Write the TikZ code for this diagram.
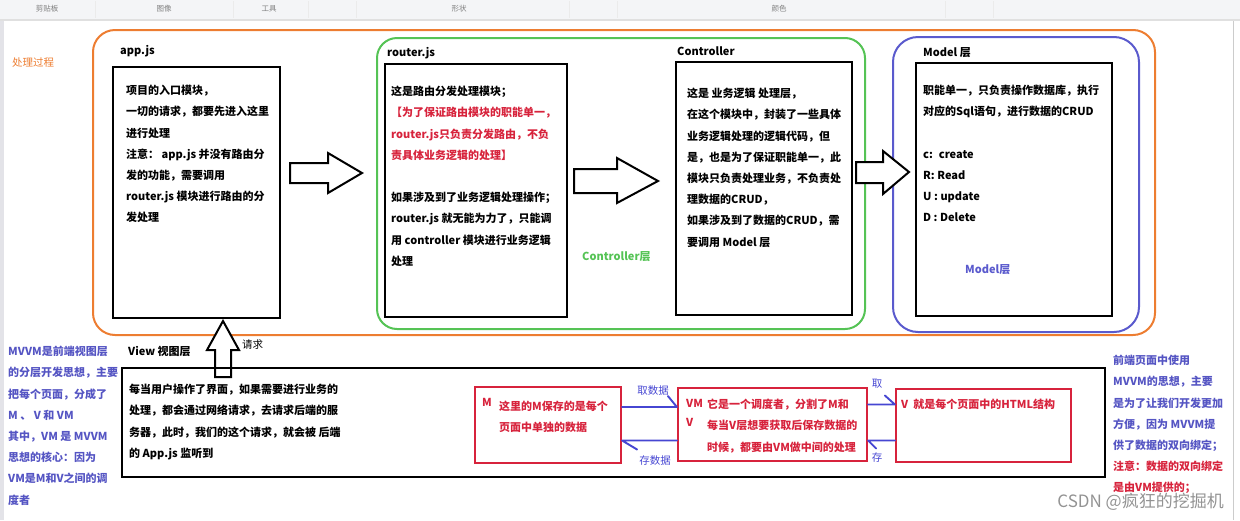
\documentclass[tikz,border=0pt]{standalone}
\usepackage{fontspec}
\setmainfont{Noto Sans CJK SC}

\definecolor{frameorange}{RGB}{237,125,49}
\definecolor{framegreen}{RGB}{85,195,85}
\definecolor{frameblue}{RGB}{90,90,205}
\definecolor{notered}{RGB}{215,35,60}
\definecolor{noteblue}{RGB}{85,85,195}
\definecolor{linkblue}{RGB}{70,70,210}
\definecolor{toolgrey}{RGB}{244,245,247}
\newcommand\redtext[1]{\textcolor{notered}{#1}}

\begin{document}
\begin{tikzpicture}[x=1pt, y=-1pt,
  every node/.style={inner sep=0pt, font=\fontsize{11}{21.2}\selectfont\bfseries},
  box/.style={draw, line width=2.2pt},
  redbox/.style={draw=notered, line width=2.2pt},
  frame/.style={line width=2pt, rounded corners=22pt},
  txt/.style={anchor=north west, align=left},
  title/.style={anchor=west},
  fat/.style={draw, fill=white, line width=2pt, line join=miter},
  link/.style={linkblue, line width=1.9pt, line join=round, line cap=round},
  linklabel/.style={linkblue, font=\fontsize{10.5}{12}\selectfont\mdseries},
  tool/.style={gray, font=\fontsize{7.5}{8}\selectfont\mdseries}]
\useasboundingbox (0,0) rectangle (1240,520);
\fill[toolgrey] (0,0) rectangle (1240,19);
\fill[black!12] (0,19) rectangle (1240,21);
\fill[blue!8!gray!20] (0,21) rectangle (4,520);
\draw[black!20] (1233,21) -- (1233,520);
\foreach \sx in {95,233,308,356,569,617,945,993}
  \draw[black!8] (\sx,1) -- (\sx,18);
\node[tool] (tclip) at (47,9) {剪贴板};
\node[tool] (timage) at (164,9) {图像};
\node[tool] (ttools) at (269,9) {工具};
\node[tool] (tshape) at (459,9) {形状};
\node[tool] (tcolor) at (779,9) {颜色};

\draw[frame, frameorange] (93,30) rectangle (1155,335);
\draw[frame, framegreen, rounded corners=20pt] (377,38) rectangle (865,329);
\draw[frame, frameblue, rounded corners=25pt] (893,37) rectangle (1139,332);
\node[title, frameorange, font=\fontsize{10.5}{12}\selectfont\mdseries] (process) at (12,63) {处理过程};

\node[title] (applabel) at (120,51) {app.js};
\node[box, minimum width=167pt, minimum height=251pt] (app) at (196.5,192.5) {};
\node[txt] (apptext) at (126,85) {项目的入口模块，\\一切的请求，都要先进入这里\\进行处理\\注意： app.js 并没有路由分\\发的功能，需要调用\\router.js 模块进行路由的分\\发处理};

\node[title] (routerlabel) at (387,53) {router.js};
\node[box, minimum width=182pt, minimum height=253pt] (router) at (476,190.5) {};
\node[txt] (routertext) at (391,86) {这是路由分发处理模块；\\\redtext{【为了保证路由模块的职能单一，}\\\redtext{router.js只负责分发路由，不负}\\\redtext{责具体业务逻辑的处理】}\\[21.2pt]如果涉及到了业务逻辑处理操作；\\router.js 就无能为力了，只能调\\用 controller 模块进行业务逻辑\\处理};

\node[title] (ctrllabel) at (677,51) {Controller};
\node[box, minimum width=176pt, minimum height=253pt] (ctrl) at (764,188.5) {};
\node[txt] (ctrltext) at (687,88) {这是 业务逻辑 处理层，\\在这个模块中，封装了一些具体\\业务逻辑处理的逻辑代码，但\\是，也是为了保证职能单一，此\\模块只负责处理业务，不负责处\\理数据的CRUD，\\如果涉及到了数据的CRUD，需\\要调用 Model 层};
\node[title, framegreen] (ctrllayer) at (582,257) {Controller层};

\node[title] (modellabel) at (923,53) {Model 层};
\node[box, minimum width=196pt, minimum height=253pt] (model) at (1014,189.5) {};
\node[txt] (modeltext) at (923,85) {职能单一，只负责操作数据库，执行\\对应的Sql语句，进行数据的CRUD\\[21.2pt]c:~ create\\R: Read\\U : update\\D : Delete};
\node[title, frameblue] (modellayer) at (965,270) {Model层};

\draw[fat] (290,163) -- (328,163) -- (328,153) -- (362,173) -- (328,193) -- (328,183) -- (290,183) -- cycle;
\draw[fat] (574,169) -- (617,169) -- (617,158) -- (658,181) -- (617,203) -- (617,193) -- (574,193) -- cycle;
\draw[fat] (856,162) -- (883,162) -- (883,151) -- (909,172) -- (883,194) -- (883,183) -- (856,183) -- cycle;
\draw[fat] (223,321) -- (239,350) -- (231,350) -- (231,377) -- (215,377) -- (215,350) -- (207,350) -- cycle;
\node[title, font=\fontsize{10.5}{12}\selectfont\mdseries] (request) at (242,345) {请求};

\node[title] (viewlabel) at (128,351) {View 视图层};
\node[box, minimum width=983pt, minimum height=109pt] (view) at (613.5,422.5) {};
\node[txt] (viewtext) at (129,384) {每当用户操作了界面，如果需要进行业务的\\处理，都会通过网络请求，去请求后端的服\\务器，此时，我们的这个请求，就会被 后端\\的 App.js 监听到};

\node[redbox, minimum width=146pt, minimum height=76pt] (mbox) at (548,425) {};
\node[title, notered] (mtag) at (482,402) {M};
\node[txt, notered] (mtext) at (499,401) {这里的M保存的是每个\\页面中单独的数据};

\node[redbox, minimum width=189pt, minimum height=73pt] (vmbox) at (772.5,424.5) {};
\node[title, notered] (vmtag) at (686,403) {VM};
\node[title, notered] (vtag) at (686,422) {V};
\node[txt, notered] (vmtext) at (707,399) {它是一个调度者，分割了M和\\每当V层想要获取后保存数据的\\时候，都要由VM做中间的处理};

\node[redbox, minimum width=175pt, minimum height=73pt] (vbox) at (983.5,425.5) {};
\node[title, notered] (vtext) at (901,404) {V~ 就是每个页面中的HTML结构};

\coordinate (mvtop) at ([yshift=18pt]mbox.east);
\coordinate (mvbot) at ([yshift=-16pt]vmbox.west);
\coordinate (vvtop) at ([yshift=20pt]vmbox.east);
\coordinate (vvbot) at ([yshift=-15pt]vbox.west);
\draw[link] (mvtop) -- (mvtop -| vmbox.west) -- ++(-9,-11);
\draw[link] (mvbot) -- (mvbot -| mbox.east) -- ++(15,9);
\draw[link] (vvtop) -- (vvtop -| vbox.west) -- ++(-10,-9);
\draw[link] (vvbot) -- (vvbot -| vmbox.east) -- ++(8,8);
\node[linklabel] (fetchdata) at (653,391) {取数据};
\node[linklabel] (storedata) at (655,461) {存数据};
\node[linklabel] (fetch) at (877,384) {取};
\node[linklabel] (store) at (877,457) {存};

\node[txt, noteblue] (mvvmnote) at (8,346) {MVVM是前端视图层\\的分层开发思想，主要\\把每个页面，分成了\\M 、 V 和 VM\\其中，VM 是 MVVM\\思想的核心：因为\\VM是M和V之间的调\\度者};
\node[txt, noteblue] (bindnote) at (1113,355) {前端页面中使用\\MVVM的思想，主要\\是为了让我们开发更加\\方便，因为 MVVM提\\供了数据的双向绑定；\\\redtext{注意：数据的双向绑定}\\\redtext{是由VM提供的；}};

\node[anchor=east, gray, opacity=.85, font=\fontsize{17}{18}\selectfont\mdseries] (mark) at (1224,502) {CSDN @疯狂的挖掘机};
\end{tikzpicture}
\end{document}
